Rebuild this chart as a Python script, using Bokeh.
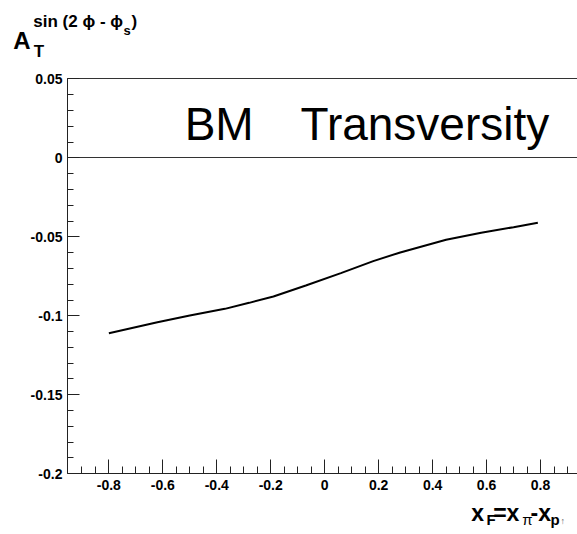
from bokeh.plotting import figure
from bokeh.models import FixedTicker, Label, Range1d, LinearAxis
from bokeh.embed import file_html
from bokeh.resources import INLINE

# ---- data ----
xf = [-0.80, -0.62, -0.50, -0.37, -0.28, -0.19, -0.07, 0.06, 0.18, 0.28, 0.45, 0.58, 0.70, 0.79]
asym = [-0.1110, -0.1041, -0.0998, -0.0956, -0.0918, -0.0878, -0.0808, -0.0730,
        -0.0654, -0.0599, -0.0519, -0.0475, -0.0439, -0.0411]

x_ticks = [-0.8, -0.6, -0.4, -0.2, 0.0, 0.2, 0.4, 0.6, 0.8]
x_tick_labels = ["-0.8", "-0.6", "-0.4", "-0.2", "0", "0.2", "0.4", "0.6", "0.8"]
y_ticks = [-0.2, -0.15, -0.1, -0.05, 0.0, 0.05]
y_tick_labels = ["-0.2", "-0.15", "-0.1", "-0.05", "0", "0.05"]

X_LO, X_HI = -0.9533, 0.937     # visible axis extent
Y_LO, Y_HI = -0.2, 0.05

FONT = "Liberation Sans"
AX = "#222222"

p = figure(width=577, height=534, output_backend="svg", toolbar_location=None, title=None,
           x_range=Range1d(-1.2016, 0.9370), y_range=Range1d(-0.23842, 0.09956),
           min_border=0, min_border_left=0, min_border_right=0, min_border_top=0, min_border_bottom=0,
           x_axis_location=None, y_axis_location=None)
p.outline_line_color = None
p.xgrid.visible = False
p.ygrid.visible = False
p.background_fill_color = "white"
p.border_fill_color = "white"

x_minor = [round(-0.9 + 0.05 * i, 3) for i in range(37)]
y_minor = [round(-0.2 + 0.01 * i, 3) for i in range(26)]

xax = LinearAxis(fixed_location=Y_LO, bounds=(X_LO, X_HI),
                 ticker=FixedTicker(ticks=x_ticks, minor_ticks=x_minor))
yax = LinearAxis(fixed_location=X_LO, bounds=(Y_LO, Y_HI),
                 ticker=FixedTicker(ticks=y_ticks, minor_ticks=y_minor))
xax.major_label_overrides = {t: l for t, l in zip(x_ticks, x_tick_labels)}
yax.major_label_overrides = {t: l for t, l in zip(y_ticks, y_tick_labels)}

for ax in (xax, yax):
    ax.axis_line_color = AX
    ax.major_tick_line_color = AX
    ax.minor_tick_line_color = AX
    ax.major_tick_out = 0
    ax.minor_tick_out = 0
    ax.major_label_text_font = FONT
    ax.major_label_text_font_style = "bold"
    ax.major_label_text_font_size = "14px"
    ax.major_label_text_color = "black"

xax.major_tick_in = 14
xax.minor_tick_in = 7
xax.major_label_standoff = 6
yax.major_tick_in = 12
yax.minor_tick_in = 6
yax.major_label_standoff = 5
p.add_layout(xax, "below")
p.add_layout(yax, "left")

# zero line and top frame line as bare axes
for loc, side in ((0.0, "below"), (Y_HI, "above")):
    ln = LinearAxis(fixed_location=loc, bounds=(X_LO, X_HI), ticker=FixedTicker(ticks=[]))
    ln.axis_line_color = "#333333"
    ln.major_tick_line_color = None
    ln.minor_tick_line_color = None
    ln.major_label_text_font_size = "0px"
    p.add_layout(ln, side)

p.line(xf, asym, line_color="black", line_width=2)

def lab(x, y, t, size, bold=True, color="black"):
    p.add_layout(Label(x=x, y=y, text=t, text_font=FONT, text_font_size=size,
                       text_font_style="bold" if bold else "normal", text_color=color,
                       text_baseline="middle", text_align="left"))

# in-plot text
lab(-0.519, 0.0217, "BM", "46px", bold=False)
lab(-0.0897, 0.0217, "Transversity", "46px", bold=False)

# y title A_T^{sin(2phi - phi_s)}
lab(-1.1540, 0.0742, "A", "24px")
lab(-1.0782, 0.0674, "T", "17px")
lab(-1.0800, 0.0864, "sin (2 \u03d5 - \u03d5", "17px")
lab(-0.7457, 0.0803, "s", "13px")
lab(-0.7161, 0.0864, ")", "17px")

# x title x_F = x_pi - x_p
lab(0.5430, -0.2245, "x", "23px")
lab(0.5997, -0.2291, "F", "15px")
lab(0.6245, -0.2245, "=x", "23px")
lab(0.7320, -0.2291, "\u03c0", "15px", bold=False)
lab(0.7628, -0.2245, "-x", "23px")
lab(0.8369, -0.2291, "p", "15px")
lab(0.8740, -0.2296, "\u2191", "9px", bold=False, color="#666666")

open("out.html", "w").write(file_html(p, INLINE))
